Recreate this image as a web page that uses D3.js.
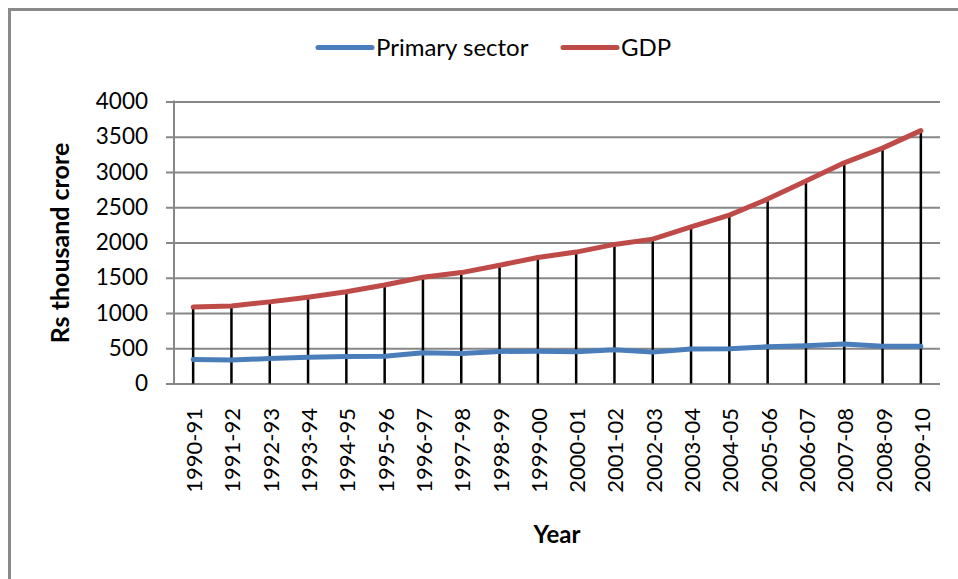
<!DOCTYPE html>
<html>
<head>
<meta charset="utf-8">
<title>Primary sector and GDP</title>
<script src="https://cdn.jsdelivr.net/npm/d3@7"></script>
<style>
    body { margin: 0; background: #fff; }
    svg { display: block; }
</style>
</head>
<body>
<script>
//chart data (Rs thousand crore)
var years = ["1990-91", "1991-92", "1992-93", "1993-94", "1994-95", "1995-96", "1996-97",
    "1997-98", "1998-99", "1999-00", "2000-01", "2001-02", "2002-03", "2003-04",
    "2004-05", "2005-06", "2006-07", "2007-08", "2008-09", "2009-10"];
var primarySector = [339, 335, 353, 372, 382, 386, 436, 425, 455, 458,
    450, 480, 445, 490, 492, 522, 537, 560, 528, 528];
var gdp = [1084, 1099, 1158, 1224, 1302, 1397, 1508, 1573, 1678, 1787,
    1864, 1973, 2048, 2223, 2389, 2616, 2871, 3130, 3339, 3587];
var yTicks = [0, 500, 1000, 1500, 2000, 2500, 3000, 3500, 4000];
var seriesNames = ["Primary sector", "GDP"];

//begin script when window loads
window.onload = setChart;

function setChart() {

    //frame dimensions
    var width = 958,
        height = 579;

    //plot area inside the frame
    var left = 174,
        right = 940,
        top = 101.5,
        bottom = 383.5;

    var font = "Lato, 'Open Sans', sans-serif";

    var svg = d3.select("body")
        .append("svg")
        .attr("width", width)
        .attr("height", height);

    //chart border (runs off the right and bottom edge like the original)
    svg.append("rect")
        .attr("x", 9.5)
        .attr("y", 9.5)
        .attr("width", 970)
        .attr("height", 600)
        .attr("fill", "#fff")
        .attr("stroke", "#8a8a8a")
        .attr("stroke-width", 3);

    var x = d3.scaleBand()
        .domain(years)
        .range([left, right]);

    var y = d3.scaleLinear()
        .domain([0, 4000])
        .range([bottom, top]);

    //horizontal gridlines with small ticks to the left
    var yAxis = d3.axisLeft(y)
        .tickValues(yTicks)
        .tickSize(-(right - left))
        .tickSizeOuter(0)
        .tickPadding(26)
        .tickFormat(d3.format("d"));

    var yG = svg.append("g")
        .attr("transform", "translate(" + left + ",0)")
        .call(yAxis);

    yG.select(".domain").remove();
    yG.selectAll(".tick line")
        .attr("x1", -8)
        .attr("stroke", "#878787")
        .attr("stroke-width", 2);
    yG.selectAll(".tick text")
        .attr("font-family", font)
        .attr("font-size", 22.5)
        .attr("fill", "#000");

    //vertical axis line
    svg.append("line")
        .attr("x1", left)
        .attr("x2", left)
        .attr("y1", top - 1)
        .attr("y2", bottom)
        .attr("stroke", "#878787")
        .attr("stroke-width", 2);

    //drop lines from the higher series down to the axis
    svg.selectAll(".drop")
        .data(years)
        .enter()
        .append("line")
        .attr("class", "drop")
        .attr("x1", function(d){ return x(d) + x.bandwidth() / 2; })
        .attr("x2", function(d){ return x(d) + x.bandwidth() / 2; })
        .attr("y1", function(d, i){ return y(Math.max(gdp[i], primarySector[i])); })
        .attr("y2", bottom)
        .attr("stroke", "#000")
        .attr("stroke-width", 2.5);

    //series lines
    var line = d3.line()
        .x(function(d, i){ return x(years[i]) + x.bandwidth() / 2; })
        .y(function(d){ return y(d); });

    var colors = ["#4a7ebb", "#be4b48"];

    svg.selectAll(".series")
        .data([primarySector, gdp])
        .enter()
        .append("path")
        .attr("class", "series")
        .attr("d", line)
        .attr("fill", "none")
        .attr("stroke", function(d, i){ return colors[i]; })
        .attr("stroke-width", 5)
        .attr("stroke-linecap", "round")
        .attr("stroke-linejoin", "round");

    //rotated year labels
    svg.selectAll(".year")
        .data(years)
        .enter()
        .append("text")
        .attr("class", "year")
        .attr("transform", function(d){
            return "translate(" + (x(d) + x.bandwidth() / 2 + 9) + ",408) rotate(-90)";
        })
        .attr("text-anchor", "end")
        .attr("font-family", font)
        .attr("font-size", 22)
        .text(function(d){ return d; });

    //axis titles
    svg.append("text")
        .attr("x", 557)
        .attr("y", 543)
        .attr("text-anchor", "middle")
        .attr("font-family", font)
        .attr("font-weight", "bold")
        .attr("font-size", 24)
        .text("Year");

    svg.append("text")
        .attr("transform", "translate(69,243) rotate(-90)")
        .attr("text-anchor", "middle")
        .attr("font-family", font)
        .attr("font-weight", "bold")
        .attr("font-size", 25)
        .text("Rs thousand crore");

    //legend
    var legendX = [318, 563];
    var legend = svg.selectAll(".legend")
        .data(seriesNames)
        .enter()
        .append("g")
        .attr("class", "legend")
        .attr("transform", function(d, i){ return "translate(" + legendX[i] + ",47.5)"; });

    legend.append("line")
        .attr("x1", 0)
        .attr("x2", 54)
        .attr("stroke", function(d, i){ return colors[i]; })
        .attr("stroke-width", 5)
        .attr("stroke-linecap", "round");

    legend.append("text")
        .attr("x", 58)
        .attr("y", 8.5)
        .attr("font-family", font)
        .attr("font-size", 24)
        .text(function(d){ return d; });
}
</script>
</body>
</html>
